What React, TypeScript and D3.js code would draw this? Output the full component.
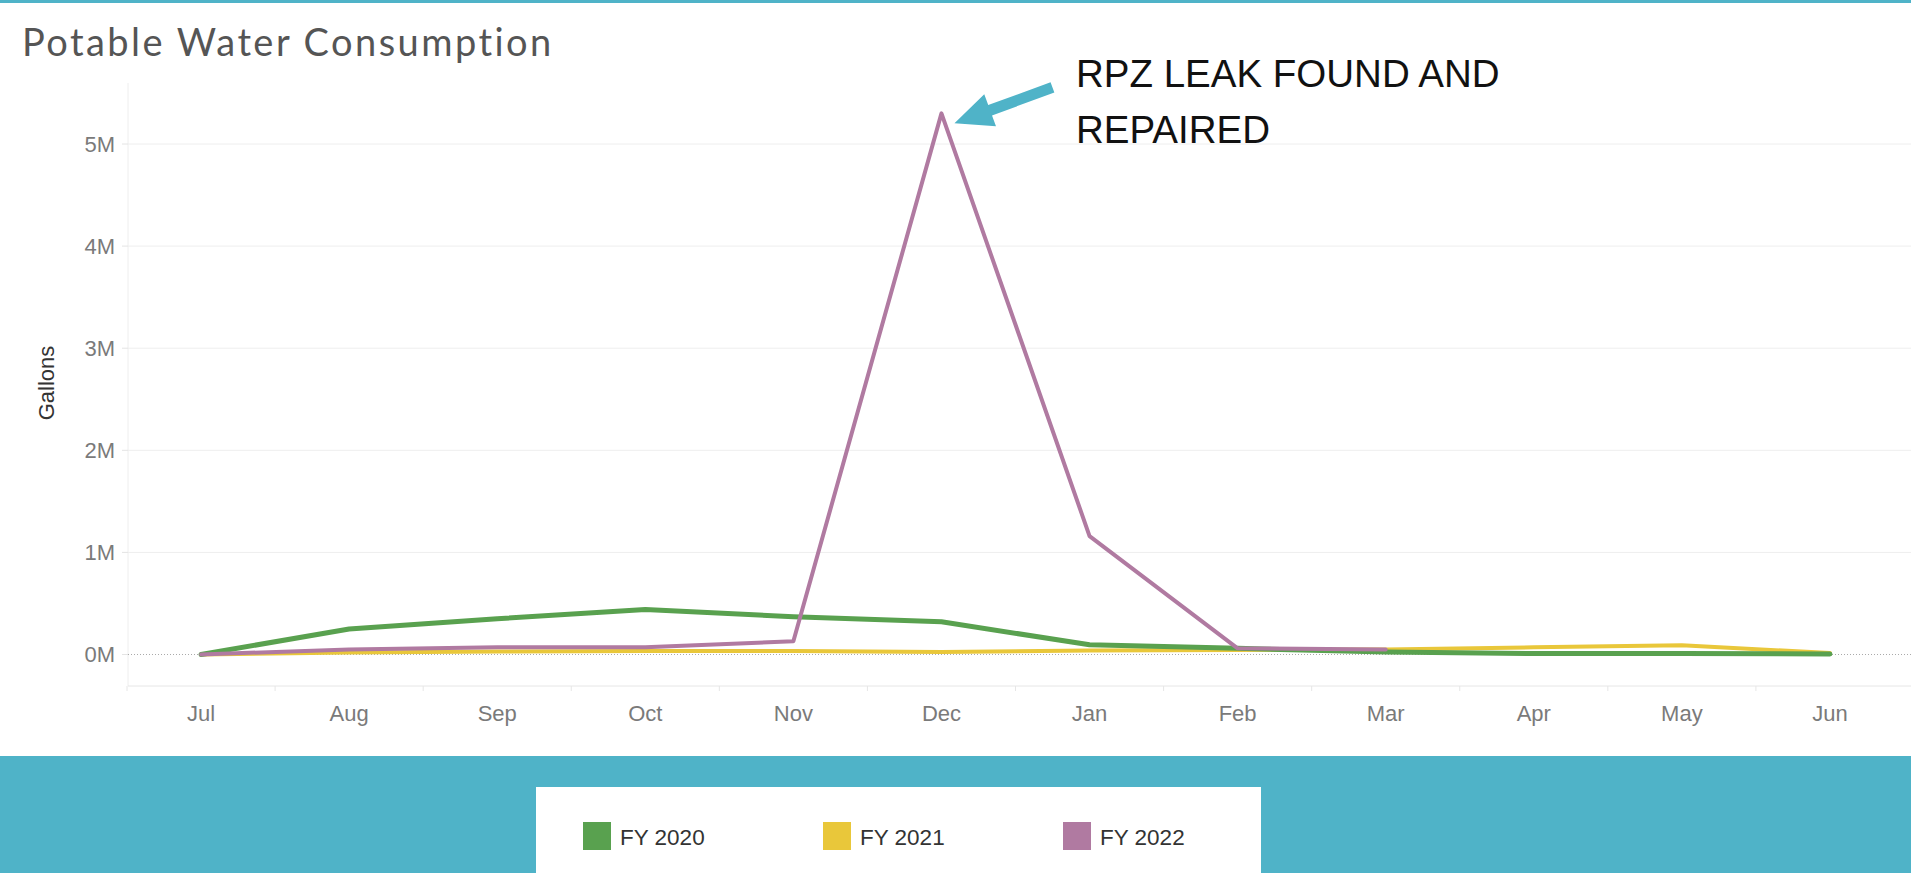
import React from "react";
import * as d3 from "d3";

const months = ["Jul", "Aug", "Sep", "Oct", "Nov", "Dec", "Jan", "Feb", "Mar", "Apr", "May", "Jun"];
const fy2020 = [0.0, 0.25, 0.35, 0.44, 0.37, 0.32, 0.095, 0.06, 0.025, 0.01, 0.01, 0.005];
const fy2021 = [0.0, 0.02, 0.03, 0.035, 0.035, 0.025, 0.04, 0.045, 0.05, 0.07, 0.09, 0.015];
const fy2022 = [0.0, 0.05, 0.07, 0.07, 0.13, 5.3, 1.16, 0.06, 0.05];
const yTicks = [0, 1, 2, 3, 4, 5];
const seriesNames = ["FY 2020", "FY 2021", "FY 2022"];
const seriesColors = ["#59A14F", "#E9C73A", "#B07AA1"];

const W = 1911;
const H = 873;
const TEAL = "#4FB3C8";
const TITLE_FONT = "Lato, 'Open Sans', sans-serif";
const AXIS_FONT = "'Liberation Sans', Arial, sans-serif";

export default function App() {
  const plotLeft = 128;
  const bandRight = 1904;
  const plotRight = 1911;
  const plotTop = 83;
  const plotBottom = 686;

  const x = d3.scaleBand<string>().domain(months).range([127, bandRight]).paddingInner(0).paddingOuter(0);
  const cx = (m: string) => (x(m) as number) + x.bandwidth() / 2;
  const y = d3.scaleLinear().domain([0, 5]).range([654.5, 144]);

  const line = d3
    .line<number>()
    .x((_, i) => cx(months[i]))
    .y((d) => y(d));

  const series = [fy2020, fy2021, fy2022];
  const drawOrder = [1, 0, 2];

  // annotation arrow anchored at the peak
  const peakIdx = fy2022.indexOf(d3.max(fy2022) as number);
  const px = cx(months[peakIdx]);
  const py = y(fy2022[peakIdx]);
  const tip: [number, number] = [px + 13, py + 10];
  const tail: [number, number] = [px + 111, py - 26];
  const dx = tail[0] - tip[0];
  const dy = tail[1] - tip[1];
  const len = Math.hypot(dx, dy);
  const ux = dx / len;
  const uy = dy / len;
  const nx = -uy;
  const ny = ux;
  const headLen = 38;
  const headW = 17;
  const shaftW = 5.5;
  const hb: [number, number] = [tip[0] + ux * headLen, tip[1] + uy * headLen];
  const arrowPts = [
    tip,
    [hb[0] + nx * headW, hb[1] + ny * headW],
    [hb[0] + nx * shaftW, hb[1] + ny * shaftW],
    [tail[0] + nx * shaftW, tail[1] + ny * shaftW],
    [tail[0] - nx * shaftW, tail[1] - ny * shaftW],
    [hb[0] - nx * shaftW, hb[1] - ny * shaftW],
    [hb[0] - nx * headW, hb[1] - ny * headW],
  ]
    .map((p) => p.join(","))
    .join(" ");

  const legendX = [583, 823, 1063];

  return (
    <div style={{ position: "absolute", left: 0, top: 0 }}>
      <svg width={W} height={H} style={{ display: "block", background: "#fff" }}>
        <rect x={0} y={0} width={W} height={3} fill={TEAL} />
        <text x={22} y={56} fontFamily={TITLE_FONT} fontWeight={400} fontSize={38} letterSpacing={2.45} fill="#555">
          Potable Water Consumption
        </text>

        {/* y axis line */}
        <line x1={plotLeft} x2={plotLeft} y1={plotTop} y2={plotBottom} stroke="#eee" strokeWidth={1} />
        {/* gridlines */}
        {yTicks.map((t) =>
          t === 0 ? (
            <line key={t} x1={plotLeft} x2={plotRight} y1={y(t)} y2={y(t)} stroke="#aaa" strokeWidth={1} strokeDasharray="1,2" />
          ) : (
            <line key={t} x1={plotLeft} x2={plotRight} y1={y(t)} y2={y(t)} stroke="#eee" strokeWidth={1} />
          )
        )}
        {yTicks.map((t) => (
          <g key={"yt" + t}>
            <line x1={plotLeft - 6} x2={plotLeft} y1={y(t)} y2={y(t)} stroke="#e4e4e4" />
            <text x={115} y={y(t)} dy="0.36em" textAnchor="end" fontFamily={AXIS_FONT} fontSize={22} fill="#7a7a7a">
              {t}M
            </text>
          </g>
        ))}
        <text
          transform={`translate(46, 383) rotate(-90)`}
          dy="0.36em"
          textAnchor="middle"
          fontFamily={AXIS_FONT}
          fontSize={22}
          fill="#333"
        >
          Gallons
        </text>

        {/* x axis */}
        <line x1={plotLeft} x2={plotRight} y1={plotBottom} y2={plotBottom} stroke="#e6e6e6" />
        {months.map((m) => (
          <g key={m}>
            <line x1={x(m) as number} x2={x(m) as number} y1={plotBottom} y2={plotBottom + 5} stroke="#e6e6e6" />
            <text x={cx(m)} y={plotBottom + 27} dy="0.36em" textAnchor="middle" fontFamily={AXIS_FONT} fontSize={22} fill="#7a7a7a">
              {m}
            </text>
          </g>
        ))}

        {/* lines */}
        {drawOrder.map((si) => (
          <path
            key={si}
            d={line(series[si]) as string}
            fill="none"
            stroke={seriesColors[si]}
            strokeWidth={si === 0 ? 5 : 4}
            strokeLinejoin="round"
            strokeLinecap="round"
          />
        ))}

        {/* annotation */}
        <polygon points={arrowPts} fill={TEAL} />
        <text fontFamily="'Liberation Sans Narrow', 'Liberation Sans', sans-serif" fontSize={38.5} fill="#111">
          <tspan x={1076} y={87}>RPZ LEAK FOUND AND</tspan>
          <tspan x={1076} y={143}>REPAIRED</tspan>
        </text>

        {/* bottom band & legend */}
        <rect x={0} y={756} width={W} height={H - 756} fill={TEAL} />
        <rect x={536} y={787} width={725} height={H - 787} fill="#fff" />
        {seriesNames.map((n, i) => (
          <g key={n}>
            <rect x={legendX[i]} y={822} width={28} height={28} fill={seriesColors[i]} />
            <text x={legendX[i] + 37} y={837} dy="0.36em" fontFamily={AXIS_FONT} fontSize={22.5} fill="#333">
              {n}
            </text>
          </g>
        ))}
      </svg>
    </div>
  );
}
